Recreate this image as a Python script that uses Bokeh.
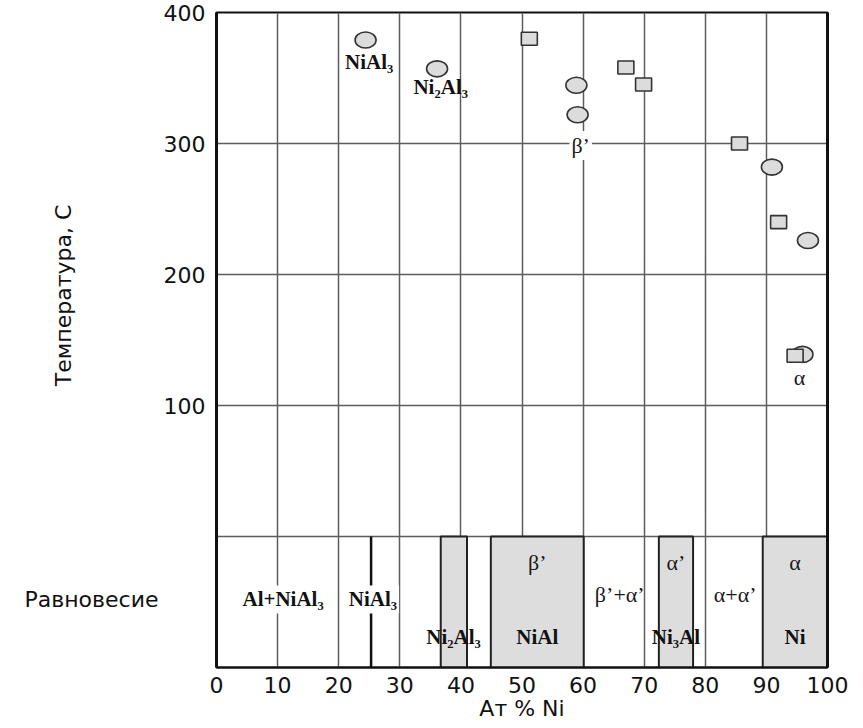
import math
from bokeh.plotting import figure
from bokeh.layouts import row
from bokeh.models import Range1d, FixedTicker, LinearAxis
from bokeh.core.properties import value
from bokeh.embed import file_html
from bokeh.resources import INLINE

# ---- data ----
circle_ni = [24.4, 36.1, 58.9, 59.1, 90.9, 96.8, 95.9]
circle_t = [379, 357, 344.5, 322, 282, 226, 139]
square_ni = [51.2, 67.0, 69.9, 85.6, 92.0, 94.7]
square_t = [380, 358, 345, 300, 240, 138]

phase_left = [36.7, 44.9, 72.4, 89.4]
phase_right = [41.0, 60.1, 78.0, 100.0]
compound_line_ni = [25.3]

x_ticks = [0, 10, 20, 30, 40, 50, 60, 70, 80, 90, 100]
y_ticks = [0, 100, 200, 300, 400]
y_tick_text = {0: ""}

top_bold = ["NiAl\u2083", "Ni\u2082Al\u2083"]
top_bold_x = [25.0, 36.7]
top_bold_y = [362, 343]

top_greek = ["\u03b2\u2019", "\u03b1"]
top_greek_x = [59.6, 95.4]
top_greek_y = [298.5, 121]

eq_bold_bg = ["Al+NiAl\u2083", "NiAl\u2083"]
eq_bold_bg_x = [10.9, 25.6]
eq_bold_bg_y = [-48, -48]

eq_bold = ["Ni\u2082Al\u2083", "NiAl", "Ni\u2083Al", "Ni"]
eq_bold_x = [38.8, 52.5, 75.2, 94.7]
eq_bold_y = [-77, -77, -77, -77]

eq_greek = ["\u03b2\u2019", "\u03b1\u2019", "\u03b1", "\u03b2\u2019+\u03b1\u2019", "\u03b1+\u03b1\u2019"]
eq_greek_x = [52.5, 75.2, 94.7, 66.0, 84.9]
eq_greek_y = [-20, -20, -20, -44, -44]

y_title = ["Температура, С"]
row_title = ["Равновесие"]
x_title = "Ат % Ni"

SANS = "DejaVu Sans"
SERIF = "Liberation Serif"

LEFT_W = 160
TOTAL_W = 863
H = 728
TOP = 12
BOTTOM = 61

y_range = Range1d(-100, 400)

# ---- main chart ----
p = figure(width=TOTAL_W - LEFT_W, height=H, x_range=Range1d(0, 100), y_range=y_range,
           output_backend="svg", toolbar_location=None,
           min_border_left=214 - LEFT_W, min_border_right=36, min_border_top=TOP, min_border_bottom=BOTTOM)
p.background_fill_color = "white"
p.border_fill_color = "white"
p.outline_line_color = "#111111"
p.outline_line_width = 2

p.xgrid.ticker = FixedTicker(ticks=[10, 20, 30, 40, 50, 60, 70, 80, 90])
p.ygrid.ticker = FixedTicker(ticks=[0, 100, 200, 300])
p.xgrid.grid_line_color = "#5c5c5c"
p.ygrid.grid_line_color = "#5c5c5c"
p.xgrid.grid_line_width = 1.5
p.ygrid.grid_line_width = 1.5

p.xaxis.ticker = FixedTicker(ticks=x_ticks)
p.yaxis.ticker = FixedTicker(ticks=y_ticks)
p.yaxis.major_label_overrides = y_tick_text
for ax in (p.xaxis[0], p.yaxis[0]):
    ax.major_tick_line_color = None
    ax.minor_tick_line_color = None
    ax.major_tick_out = 0
    ax.major_tick_in = 0
    ax.major_label_text_font = SANS
    ax.major_label_text_font_size = "22px"
    ax.major_label_text_color = "#111111"
    ax.axis_line_color = "#111111"
p.yaxis.axis_line_width = 3
p.xaxis.axis_line_width = 2
p.yaxis.major_label_standoff = 11
p.xaxis.major_label_standoff = 9
p.xaxis.axis_label = x_title
p.xaxis.axis_label_text_font = SANS
p.xaxis.axis_label_text_font_size = "22px"
p.xaxis.axis_label_text_font_style = "normal"
p.xaxis.axis_label_text_color = "#111111"
p.xaxis.axis_label_standoff = 0

right_axis = LinearAxis(ticker=FixedTicker(ticks=[]), axis_line_width=3, axis_line_color="#111111",
                        major_tick_line_color=None, minor_tick_line_color=None,
                        major_tick_out=0, major_tick_in=0,
                        major_label_text_font_size="0px", major_label_standoff=0)
p.add_layout(right_axis, "right")

# equilibrium phase boxes
p.quad(left=phase_left, right=phase_right, top=0, bottom=-100,
       fill_color="#dddddd", line_color="#222222", line_width=2)
p.segment(x0=compound_line_ni, y0=[0], x1=compound_line_ni, y1=[-100],
          line_color="#111111", line_width=2.5)

# measured points
p.ellipse(x=circle_ni, y=circle_t, width=21, height=16, width_units="screen", height_units="screen",
          fill_color="#dcdcdc", line_color="#333333", line_width=1.6)
p.rect(x=square_ni, y=square_t, width=16, height=13, width_units="screen", height_units="screen",
       fill_color="#dcdcdc", line_color="#333333", line_width=1.6)

# text labels
p.text(x=top_bold_x, y=top_bold_y, text=top_bold, text_font=value(SERIF), text_font_style="bold",
       text_font_size="21px", text_align="center", text_baseline="middle", text_color="#111111")
p.text(x=top_greek_x, y=top_greek_y, text=top_greek, text_font=value(SERIF),
       text_font_size="22px", text_align="center", text_baseline="middle", text_color="#1a1a1a",
       background_fill_color="white", padding=2)
p.text(x=eq_bold_bg_x, y=eq_bold_bg_y, text=eq_bold_bg, text_font=value(SERIF), text_font_style="bold",
       text_font_size="21px", text_align="center", text_baseline="middle", text_color="#111111",
       background_fill_color="white", padding=2)
p.text(x=eq_bold_x, y=eq_bold_y, text=eq_bold, text_font=value(SERIF), text_font_style="bold",
       text_font_size="21px", text_align="center", text_baseline="middle", text_color="#111111")
p.text(x=eq_greek_x, y=eq_greek_y, text=eq_greek, text_font=value(SERIF),
       text_font_size="22px", text_align="center", text_baseline="middle", text_color="#1a1a1a")

# ---- left strip holding the vertical title and the row label ----
q = figure(width=LEFT_W, height=H, x_range=Range1d(0, LEFT_W), y_range=y_range,
           output_backend="svg", toolbar_location=None, x_axis_type=None, y_axis_type=None,
           min_border_left=0, min_border_right=0, min_border_top=TOP, min_border_bottom=BOTTOM)
q.outline_line_color = None
q.grid.visible = False
q.background_fill_color = "white"
q.border_fill_color = "white"
q.text(x=[63], y=[184], text=y_title, angle=math.pi / 2, text_font=value(SANS),
       text_font_size="22px", text_align="center", text_baseline="middle", text_color="#111111")
q.text(x=[LEFT_W - 2], y=[-48], text=row_title, text_font=value(SANS),
       text_font_size="22px", text_align="right", text_baseline="middle", text_color="#111111")

layout = row(q, p)
open("out.html", "w").write(file_html(layout, INLINE))
